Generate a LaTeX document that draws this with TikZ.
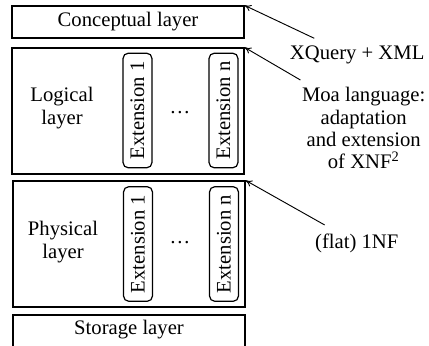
\documentclass[tikz,border=0pt]{standalone}
\usepackage{fontspec}
\setmainfont{Liberation Serif}
\usepackage{tikz}
\usetikzlibrary{arrows.meta}

\tikzset{
  layer/.style={draw, line width=0.9pt, minimum width=174pt, inner sep=0pt},
  extbox/.style={draw, line width=0.9pt, rounded corners=4pt, rotate=90,
    minimum width=86pt, minimum height=21.75pt, inner sep=0pt},
  note/.style={align=center, inner sep=1pt},
  pointer/.style={-{To[length=5pt,width=5pt]}, line width=0.7pt}
}

\begin{document}
\begin{tikzpicture}[x=0.75pt, y=-0.75pt]
    \fontsize{15.5}{16.6}\selectfont
    \useasboundingbox (0,0) rectangle (429,346);

    % Conceptual layer
    \node[layer, minimum height=24pt] (concept) at (128,22) {Conceptual layer};

    % Logical layer with its extensions
    \node[layer, minimum height=94.5pt] (logical) at (128,111) {};
    \node[note] (loglbl) at (62,108) {Logical\\layer};
    \node[extbox] (logext1) at (137.5,110.5) {Extension 1};
    \node (logdots) at (180,113) {\dots};
    \node[extbox] (logextn) at (223.5,110.5) {Extension n};

    % Physical layer with its extensions
    \node[layer, minimum height=94.5pt] (physical) at (129,244) {};
    \node[note] (physlbl) at (63,242) {Physical\\layer};
    \node[extbox] (physext1) at (138,244) {Extension 1};
    \node (physdots) at (180,243) {\dots};
    \node[extbox] (physextn) at (224,244) {Extension n};

    % Storage layer (runs off the bottom)
    \node[layer, minimum height=27pt] (storage) at (129,333) {};
    \node (storelbl) at (129,330) {Storage layer};

    % Languages on the right
    \node[note, anchor=east] (xq) at (426,55) {XQuery + XML};
    \node[note, anchor=north east] (moa) at (427,86)
      {Moa language:\\adaptation\\and extension\\of XNF\textsuperscript{2}};
    \node[note, anchor=east] (flat) at (400,243) {(flat) 1NF};

    \draw[pointer] ([shift={(26,-6)}]xq.north west) -- (concept.north east);
    \draw[pointer] ([shift={(0,-6)}]moa.north west) -- (logical.north east);
    \draw[pointer] ([shift={(11,-7)}]flat.north west) -- (physical.north east);
\end{tikzpicture}
\end{document}
